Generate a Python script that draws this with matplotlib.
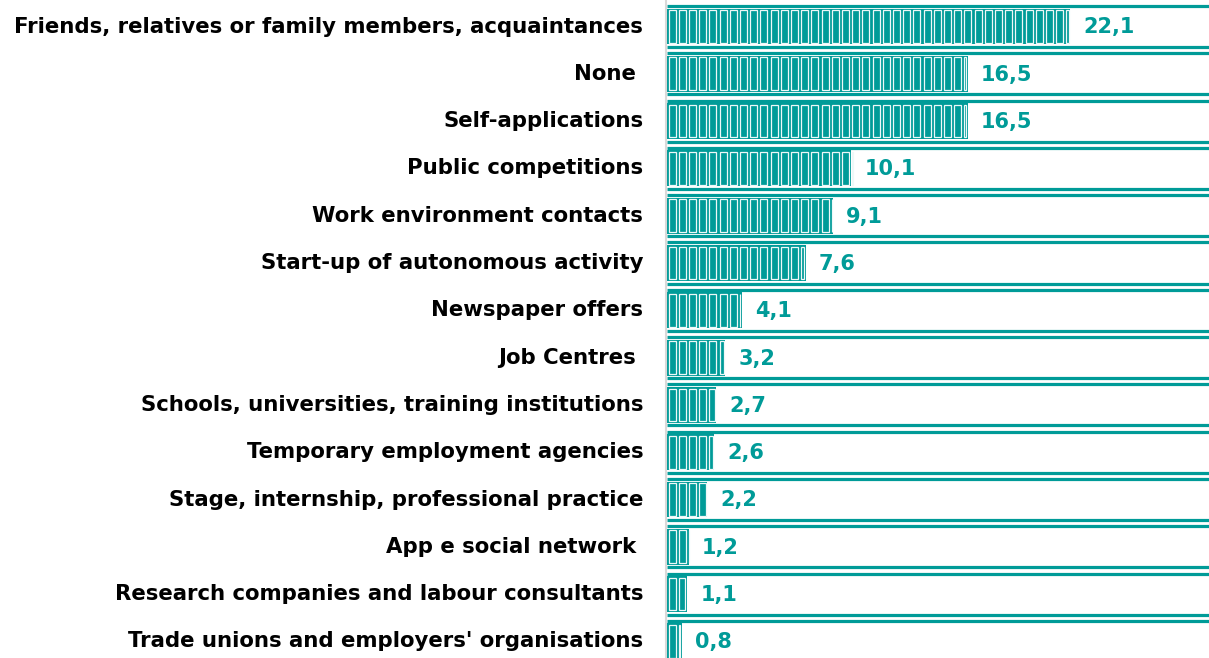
import math
import matplotlib
matplotlib.use("Agg")
import matplotlib.pyplot as plt

categories = [
    "Friends, relatives or family members, acquaintances",
    "None ",
    "Self-applications",
    "Public competitions",
    "Work environment contacts",
    "Start-up of autonomous activity",
    "Newspaper offers",
    "Job Centres ",
    "Schools, universities, training institutions",
    "Temporary employment agencies",
    "Stage, internship, professional practice",
    "App e social network ",
    "Research companies and labour consultants",
    "Trade unions and employers' organisations",
]
values = [22.1, 16.5, 16.5, 10.1, 9.1, 7.6, 4.1, 3.2, 2.7, 2.6, 2.2, 1.2, 1.1, 0.8]
value_labels = ["22,1", "16,5", "16,5", "10,1", "9,1", "7,6", "4,1", "3,2", "2,7", "2,6", "2,2", "1,2", "1,1", "0,8"]

TEAL = "#009b98"
W, H = 1209, 658
px_x = 18.24          # pixels per unit on the value axis
unit = 10.2 / px_x    # width of one block in the bars

fig = plt.figure(figsize=(W / 100, H / 100), dpi=100)
px_per_row = 47.3
top_px = 26.5 - px_per_row / 2
bot_px = top_px + px_per_row * len(categories)
left_px = 667
ax = fig.add_axes([left_px / W, (H - bot_px) / H, (W - left_px) / W, (bot_px - top_px) / H])
ax.set_xlim(0, (W - left_px) / px_x)
ax.set_ylim(len(categories) - 0.5, -0.5)
ax.axis("off")

bar_h = 0.76
ix = 1.6 / px_x
iy = 1.6 / px_per_row

for i, (v, lab) in enumerate(zip(values, value_labels)):
    # row frame lines
    for dy in (-0.435, 0.435):
        ax.plot([0, ax.get_xlim()[1]], [i + dy, i + dy], color=TEAL, lw=2.3,
                solid_capstyle="butt", clip_on=False)
    n = math.ceil(v / unit - 1e-9)
    lefts = [k * unit for k in range(n)]
    widths = [min(unit, v - k * unit) for k in range(n)]
    ax.barh([i] * n, widths, left=lefts, height=bar_h, color=TEAL, linewidth=0)
    # white inset outline inside every block
    inner_w = [max(w - 2 * ix, 0.02) for w in widths]
    ax.barh([i] * n, inner_w, left=[l + ix for l in lefts], height=bar_h - 2 * iy,
            facecolor="none", edgecolor="#eef8f8", linewidth=0.9)
    ax.text(v + 0.72, i + 0.02, lab, color=TEAL, fontsize=15, fontweight="bold",
            family="DejaVu Sans", va="center", ha="left")

for i, c in enumerate(categories):
    ax.text(-1.3, i, c, fontsize=15.3, fontweight="bold", family="DejaVu Sans",
            va="center", ha="right", color="black")

fig.add_artist(plt.Line2D([665.5 / W, 665.5 / W], [0, 1], color="#d9d9d9", lw=1.5))

fig.savefig("out.png", dpi=100)
